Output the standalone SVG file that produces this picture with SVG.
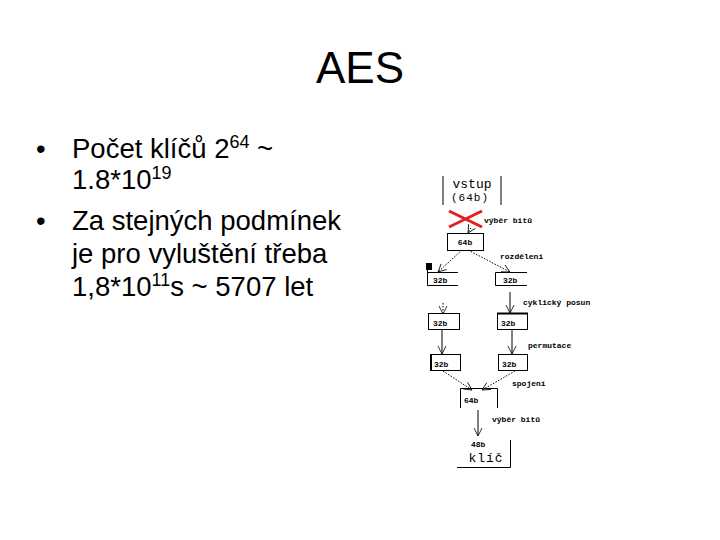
<svg xmlns="http://www.w3.org/2000/svg" width="720" height="540" viewBox="0 0 720 540">
<style>
.t{font-family:"Liberation Sans",Arial,sans-serif;fill:#000}
.m{font-family:"Liberation Mono","DejaVu Sans Mono",monospace;fill:#000}
.s{font-size:8px;font-weight:bold}
.b{fill:none;stroke:#000;stroke-width:1}
.d{fill:none;stroke:#000;stroke-width:1;stroke-dasharray:1.5 1.5;marker-end:url(#ah)}
.a{fill:none;stroke:#000;stroke-width:1;marker-end:url(#ah)}
</style>
<defs>
<marker id="ah" markerWidth="10" markerHeight="10" refX="8" refY="5" orient="auto" markerUnits="userSpaceOnUse">
<path d="M0,1 L8,5 L0,9" fill="none" stroke="#000" stroke-width="0.8"/>
</marker>
</defs>
<rect width="720" height="540" fill="#fff"/>
<text class="t" x="360" y="83" font-size="44" text-anchor="middle">AES</text>
<g id="bullets" class="t" font-size="27.5">
<text x="36" y="158">•</text>
<text x="72" y="158">Počet klíčů 2<tspan font-size="18" dy="-10">64</tspan><tspan dy="10"> ~</tspan></text>
<text x="72" y="189">1.8*10<tspan font-size="18" dy="-10">19</tspan></text>
<text x="36" y="230">•</text>
<text x="72" y="230">Za stejných podmínek</text>
<text x="72" y="263">je pro vyluštění třeba</text>
<text x="72" y="296">1,8*10<tspan font-size="18" dy="-10">11</tspan><tspan dy="10">s ~ 5707 let</tspan></text>
</g>
<g id="connectors">
<path class="d" d="M471,228 L468,233"/>
<path class="d" d="M462,250 L438,272"/>
<path class="d" d="M468,250 L510,272"/>
<path class="a" d="M510,292 L510,313"/>
<path class="d" d="M443,303 L443,314"/>
<path class="a" d="M442,330 L442,354"/>
<path class="a" d="M512,330 L512,354"/>
<path class="d" d="M443,371 L472,390"/>
<path class="d" d="M515,371 L482,390"/>
<path class="a" d="M478,410 L478,436"/>
</g>
<g id="n-vstup">
<path class="b" d="M443,176 V205 M501,176 V205"/>
<text class="m" x="472" y="188" font-size="13" text-anchor="middle">vstup</text>
<text class="m" x="470" y="201" font-size="11" text-anchor="middle" letter-spacing="1">(64b)</text>
</g>
<g id="n-cross">
<path d="M449,211 L482,227 M449,227 L482,211" stroke="#e02020" stroke-width="3" fill="none"/>
<text class="m s" x="484" y="223">výběr bitů</text>
</g>
<g id="n-64a">
<rect class="b" x="447.5" y="233.5" width="36" height="17"/>
<text class="m s" x="465" y="245" text-anchor="middle">64b</text>
<text class="m s" x="500" y="259">rozdělení</text>
</g>
<g id="n-32l1">
<rect x="426" y="263" width="6" height="7" fill="#000"/>
<path class="b" d="M427.5,263 V285.5 H458 M427.5,272.5 H458"/>
<text class="m s" x="433" y="283">32b</text>
</g>
<g id="n-32r1">
<path class="b" d="M495.5,272.5 H527 M495.5,272.5 V285.5 H527"/>
<text class="m s" x="503" y="283">32b</text>
<text class="m s" x="523" y="305">cyklický posun</text>
</g>
<g id="n-32l2">
<rect class="b" x="428.5" y="313.5" width="31" height="16"/>
<text class="m s" x="433" y="326">32b</text>
</g>
<g id="n-32r2">
<rect class="b" x="497.5" y="313.5" width="30" height="16"/>
<path d="M497,313.5 H528" stroke="#000" stroke-width="2"/>
<text class="m s" x="501" y="326">32b</text>
<text class="m s" x="528" y="348">permutace</text>
</g>
<g id="n-32l3">
<rect class="b" x="430.5" y="354.5" width="30" height="16"/>
<path d="M431,354 V371" stroke="#000" stroke-width="2"/>
<text class="m s" x="434" y="367">32b</text>
</g>
<g id="n-32r3">
<rect class="b" x="498.5" y="354.5" width="29" height="16"/>
<text class="m s" x="502" y="367">32b</text>
<text class="m s" x="512" y="386">spojení</text>
</g>
<g id="n-64b">
<path class="b" d="M460.5,408 V388.5 H497.5 V408"/>
<text class="m s" x="464" y="403">64b</text>
<text class="m s" x="492" y="422">výběr bitů</text>
</g>
<g id="n-key">
<path class="b" d="M457,467.5 H510.5 V440"/>
<text class="m s" x="471" y="447">48b</text>
<text class="m" x="486" y="462" font-size="13" text-anchor="middle" letter-spacing="1">klíč</text>
</g>
</svg>
